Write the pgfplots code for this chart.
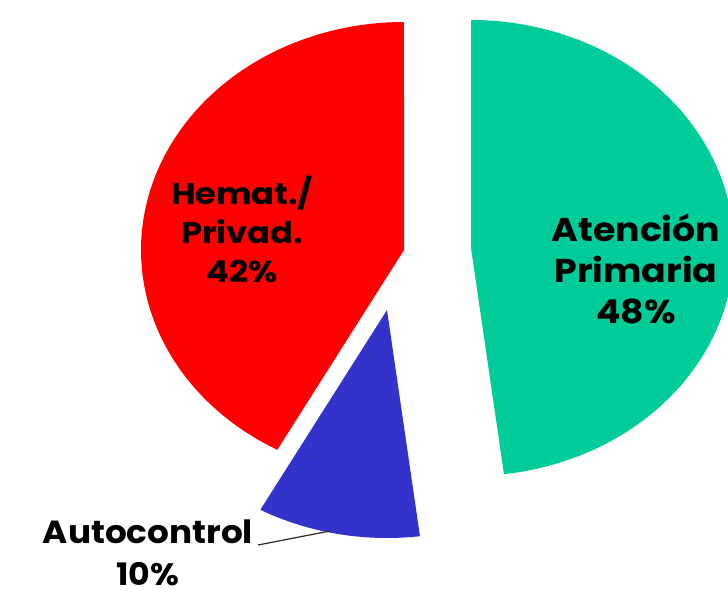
\documentclass[border=0pt]{standalone}
\usepackage{fontspec}
\setmainfont{Poppins}
\usepackage{pgfplots}
\usepackage{pgfplotstable}
\pgfplotsset{compat=1.18}

\definecolor{sliceGreen}{RGB}{0,204,153}
\definecolor{sliceBlue}{RGB}{51,51,204}
\definecolor{sliceRed}{RGB}{255,0,0}

% share (%), apex of each exploded slice, fill colour
\pgfplotstableread{
name        value cx  cy  col
Primaria    48    471 248 sliceGreen
Autocontrol 10    387 310 sliceBlue
Hemat       42    404 250 sliceRed
}\slices

% pie radii (horizontal, vertical)
\def\rx{263}
\def\ry{228}

\begin{document}
\begin{tikzpicture}
\pgfplotstablegetrowsof{\slices}
\pgfmathtruncatemacro\lastrow{\pgfplotsretval-1}
\begin{axis}[
  hide axis, scale only axis,
  width=728pt, height=591pt,
  xmin=0, xmax=728, ymin=0, ymax=591,
  y dir=reverse, clip=true,
]
\def\startangle{0}
\pgfplotsforeachungrouped \i in {0,...,\lastrow}{%
  \pgfplotstablegetelem{\i}{value}\of\slices \let\val\pgfplotsretval
  \pgfplotstablegetelem{\i}{cx}\of\slices \let\cx\pgfplotsretval
  \pgfplotstablegetelem{\i}{cy}\of\slices \let\cy\pgfplotsretval
  \pgfplotstablegetelem{\i}{col}\of\slices \let\col\pgfplotsretval
  \pgfmathsetmacro\endangle{\startangle+3.6*\val}%
  % angles run clockwise from 12 o'clock
  \edef\doslice{\noexpand\addplot[fill=\col, draw=none, domain=\startangle:\endangle, samples=120]
    ({\cx+\rx*sin(x)},{\cy-\ry*cos(x)}) -- (axis cs:\cx,\cy) -- cycle;}%
  \doslice
  \global\let\startangle\endangle
}

% leader line for the small slice
\addplot[black!85, line width=1.2pt] coordinates {(258,545) (330,531)};

\tikzset{lbl/.style={inner sep=0pt, align=center, xscale=#1},
         one/.style={inner sep=0pt, xscale=#1}}
\node[lbl=1.1, font=\fontsize{33}{41}\selectfont\bfseries]
  at (axis cs:636,269) {Atención\\Primaria\\48\%};
\node[lbl=1.12, font=\fontsize{30}{39}\selectfont\bfseries]
  at (axis cs:242,229) {Hemat./\\Privad.\\42\%};
\node[one=1.07, font=\fontsize{32}{40}\selectfont\bfseries]
  at (axis cs:148,532) {Autocontrol};
\node[one=1.07, anchor=base, font=\fontsize{31}{40}\selectfont\bfseries]
  at (axis cs:148,585) {10\%};
\end{axis}
% the page is exactly the plot area
\pgfresetboundingbox
\path (current axis.south west) rectangle (current axis.north east);
\end{tikzpicture}
\end{document}
